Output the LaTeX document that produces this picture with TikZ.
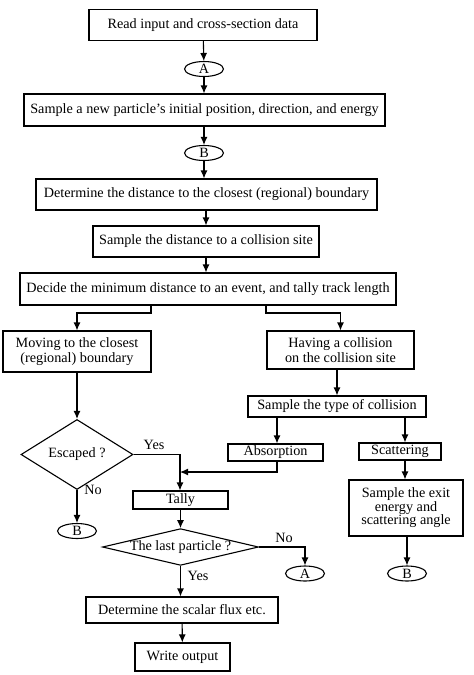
\documentclass[tikz,border=0pt]{standalone}
\usepackage{fontspec}
\setmainfont{Liberation Serif}
\usetikzlibrary{arrows.meta,shapes.geometric}
\tikzset{
  x=1pt,y=-1pt,
  every node/.style={font=\fontsize{14.2}{15.5}\selectfont},
  box/.style={draw,line width=1.1pt,rectangle,inner sep=0pt,align=center},
  oval/.style={draw,line width=1.1pt,ellipse,inner sep=0pt,minimum width=39pt,minimum height=15pt},
  dia/.style={draw,line width=1.1pt,diamond,inner sep=0pt},
  arr/.style={line width=1.1pt,-{Latex[length=8pt,width=7pt]}},
  lbl/.style={inner sep=0pt}
}
\begin{document}
\begin{tikzpicture}
\useasboundingbox (0,0) rectangle (474,675);
% nodes
\node[box,minimum width=228pt,minimum height=31pt] (r1) at (203,25) {Read input and cross-section data};
\node[oval] (a1) at (204,69) {A};
\node[box,minimum width=361pt,minimum height=32pt] (s2) at (204.5,110) {Sample a new particle's initial position, direction, and energy};
\node[oval] (b1) at (204,153) {B};
\node[box,minimum width=341pt,minimum height=31pt] (d3) at (206.5,194.5) {Determine the distance to the closest (regional) boundary};
\node[box,minimum width=226pt,minimum height=31pt] (s4) at (206,241.5) {Sample the distance to a collision site};
\node[box,minimum width=376pt,minimum height=32pt] (d5) at (208,289) {Decide the minimum distance to an event, and tally track length};
\node[box,minimum width=148pt,minimum height=41pt] (m6) at (77,351.5) {Moving to the closest\\(regional) boundary};
\node[box,minimum width=147pt,minimum height=38pt] (h7) at (340.5,350) {Having a collision\\on the collision site};
\node[box,minimum width=178pt,minimum height=21pt] (st8) at (337,406.5) {Sample the type of collision};
\node[dia,minimum width=112pt,minimum height=55pt] (esc) at (77,454.5) {Escaped ?};
\node[box,minimum width=95pt,minimum height=17pt] (abs) at (275.5,452.5) {Absorption};
\node[box,minimum width=82pt,minimum height=17pt] (sca) at (400,451.5) {Scattering};
\node[box,minimum width=95pt,minimum height=18pt] (tal) at (180.5,500) {Tally};
\node[oval] (b2) at (77,531) {B};
\node[box,minimum width=114pt,minimum height=56pt,font=\fontsize{14.2}{13.5}\selectfont] (ex) at (406,508) {Sample the exit\\energy and\\scattering angle};
\node[dia,minimum width=153pt,minimum height=36pt,shape aspect=4.25] (last) at (180.5,547) {The last particle ?};
\node[oval] (a2) at (305,573.5) {A};
\node[oval] (b3) at (407,573.5) {B};
\node[box,minimum width=192pt,minimum height=26pt] (fl) at (182,610) {Determine the scalar flux etc.};
\node[box,minimum width=95pt,minimum height=28pt] (wo) at (182.5,657) {Write output};
% connectors
\draw[arr] (r1) -- (a1);
\draw[arr] (a1) -- (s2.north -| a1);
\draw[arr] (s2.south -| a1) -- (b1);
\draw[arr] (b1) -- (d3.north -| b1);
\draw[arr] (d3.south -| s4) -- (s4);
\draw[arr] (s4) -- (d5.north -| s4);
\coordinate (jl) at (151,313);
\coordinate (jr) at (266,313);
\draw[arr] (d5.south -| jl) -- (jl) -| (m6.north);
\draw[arr] (d5.south -| jr) -- (jr) -| (h7.north);
\draw[arr] (h7.south -| st8.south) -- (st8);
\draw[arr] (m6) -- (esc);
\draw[arr] (st8.south -| 277,0) -- (abs.north -| 277,0);
\draw[arr] (st8.south -| 405,0) -- (sca.north -| 405,0);
\coordinate (jt) at (180,472);
\draw[arr] (esc.east) -| (tal.north -| jt);
\draw[arr] (abs.south -| 277,0) |- (jt);
\draw[arr] (esc) -- (b2);
\draw[arr] (sca.south -| 405,0) -- (ex.north -| 405,0);
\draw[arr] (ex.south -| b3) -- (b3);
\draw[arr] (tal) -- (last);
\draw[arr] (last.east) -| (a2);
\draw[arr] (last.south) -- (fl.north -| last.south);
\draw[arr] (fl) -- (wo);
% labels
\node[lbl] (ly1) at (154,445) {Yes};
\node[lbl] (ln1) at (93,490) {No};
\node[lbl] (ln2) at (284,538) {No};
\node[lbl] (ly2) at (198,576) {Yes};
\end{tikzpicture}
\end{document}
